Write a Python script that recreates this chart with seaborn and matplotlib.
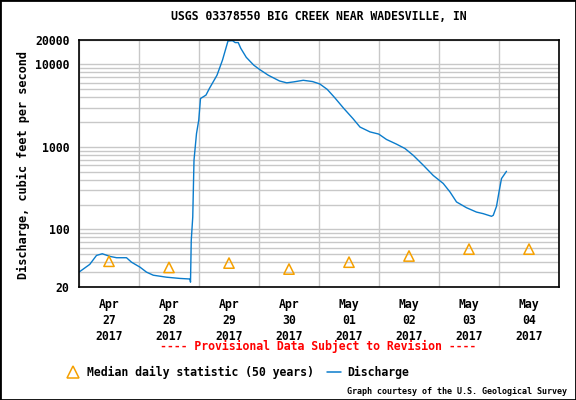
import numpy as np
import pandas as pd
import matplotlib
matplotlib.use("Agg")
import matplotlib.pyplot as plt
import matplotlib.dates as mdates
from matplotlib.lines import Line2D
from matplotlib.patches import Rectangle
from matplotlib.ticker import FixedLocator, NullFormatter
import seaborn as sns

# discharge readings (hours after Apr 27 00:00, cubic feet per second)
hours = [0, 2, 4.3, 7, 9.3, 12.4, 15, 19, 21, 24.4, 27, 29.7, 35, 40.4, 44.4, 44.6,
         44.9, 45.5, 46, 47, 47.9, 48.6, 50.8, 52.2, 55.2, 57.4, 59.6, 61.4, 62.5,
         63.7, 64.7, 66.9, 69.9, 72.2, 75.7, 80.2, 83.1, 86, 89.7, 93.4, 96.3, 99.3,
         102.2, 105.9, 109.6, 112.4, 116.4, 119.9, 123, 127, 130.4, 133.7, 137.7,
         141.7, 145.7, 148.4, 151, 155, 159, 161.7, 165, 165.7, 167, 168, 169, 171]
discharge = [30.3, 33.5, 37.6, 48.3, 50.6, 47, 45.3, 45.3, 40, 34.8, 30.3, 27.8, 26.3,
             25.4, 25, 22.9, 73.5, 141, 690, 1450, 2110, 3860, 4250, 5140, 7400, 11300,
             19250, 19400, 18400, 18400, 15700, 12200, 9800, 8700, 7400, 6300, 5980,
             6150, 6420, 6200, 5800, 4980, 3980, 2930, 2200, 1740, 1520, 1430, 1230,
             1080, 955, 790, 600, 450, 360, 284, 215, 183, 162, 155, 144, 148, 190,
             284, 413, 506]

# median daily statistic at noon of each day
days = ["2017-04-27", "2017-04-28", "2017-04-29", "2017-04-30",
        "2017-05-01", "2017-05-02", "2017-05-03", "2017-05-04"]
median = [41, 34.5, 39, 33, 40, 47.5, 57.6, 57.6]
day_labels = ["Apr\n27\n2017", "Apr\n28\n2017", "Apr\n29\n2017", "Apr\n30\n2017",
              "May\n01\n2017", "May\n02\n2017", "May\n03\n2017", "May\n04\n2017"]
y_ticks = [20, 100, 1000, 10000, 20000]

start = pd.Timestamp("2017-04-27")
df = pd.DataFrame({"time": start + pd.to_timedelta(hours, unit="h"), "q": discharge})
med = pd.DataFrame({"time": pd.to_datetime(days) + pd.Timedelta(hours=12), "q": median})

sns.set_style("white")
plt.rcParams["font.family"] = ["DejaVu Sans Mono"]
plt.rcParams["font.weight"] = "bold"
plt.rcParams["text.color"] = "black"
plt.rcParams["axes.labelcolor"] = "black"
plt.rcParams["xtick.color"] = "black"
plt.rcParams["ytick.color"] = "black"

fig = plt.figure(figsize=(5.76, 4), dpi=100)
ax = fig.add_axes([79 / 576, 113 / 400, 480 / 576, 247.4 / 400])

blue = "#0a7ccc"
orange = "#f5a000"
sns.lineplot(data=df, x="time", y="q", ax=ax, color=blue, lw=1.0)
sns.scatterplot(data=med, x="time", y="q", ax=ax, marker="^", s=55,
                facecolor="none", edgecolor=orange, linewidth=1.1, zorder=5)

ax.set_yscale("log")
ax.set_ylim(20, 20000)
ax.set_xlim(start, start + pd.Timedelta(days=8))

# grid lines: every multiple in each decade, every midnight
minor_y = [m * 10 ** e for e in range(1, 5) for m in range(1, 10) if 20 <= m * 10 ** e <= 20000]
ax.yaxis.set_major_locator(FixedLocator(y_ticks))
ax.set_yticklabels([str(v) for v in y_ticks])
ax.yaxis.set_minor_locator(FixedLocator(minor_y))
ax.yaxis.set_minor_formatter(NullFormatter())
ax.xaxis.set_major_locator(FixedLocator(mdates.date2num(med["time"])))
ax.set_xticklabels(day_labels)
ax.xaxis.set_minor_locator(mdates.DayLocator())
ax.grid(which="both", color="#c8c8c8", lw=1)
ax.grid(which="major", axis="x", visible=False)
ax.tick_params(which="both", length=0)
ax.tick_params(axis="y", pad=7, labelsize=8.3)
ax.tick_params(axis="x", pad=8, labelsize=8.3)
for lab in ax.get_xticklabels() + ax.get_yticklabels():
    lab.set_fontweight("bold")
    lab.set_linespacing(1.3)
for s in ax.spines.values():
    s.set_color("black")
    s.set_linewidth(1.2)

ax.set_xlabel("")
ax.set_ylabel("Discharge, cubic feet per second", fontsize=8.6, fontweight="bold")
ax.yaxis.set_label_coords(-0.102, 0.493)
ax.set_title("USGS 03378550 BIG CREEK NEAR WADESVILLE, IN", fontsize=8.3,
             fontweight="bold", pad=14)

fig.text(318 / 576, 1 - 346 / 400, "---- Provisional Data Subject to Revision ----",
         color="red", fontsize=8.3, fontweight="bold", ha="center", va="center")

handles = [Line2D([], [], marker="^", mfc="none", mec=orange, ls="none", ms=8, mew=1.1),
           Line2D([], [], color=blue, lw=1.1)]
fig.legend(handles, ["Median daily statistic (50 years)", "Discharge"],
           loc="center left", bbox_to_anchor=(56 / 576, 1 - 372 / 400), ncol=2,
           frameon=False, handlelength=1.2, handletextpad=0.55,
           columnspacing=1.2, prop={"weight": "bold", "size": 8.3})

fig.text(567 / 576, 1 - 391 / 400, "Graph courtesy of the U.S. Geological Survey",
         fontsize=6, ha="right", va="center")

fig.patches.append(Rectangle((0, 0), 1, 1, transform=fig.transFigure, fill=False,
                             edgecolor="black", lw=2))

fig.savefig("out.png", dpi=100)
